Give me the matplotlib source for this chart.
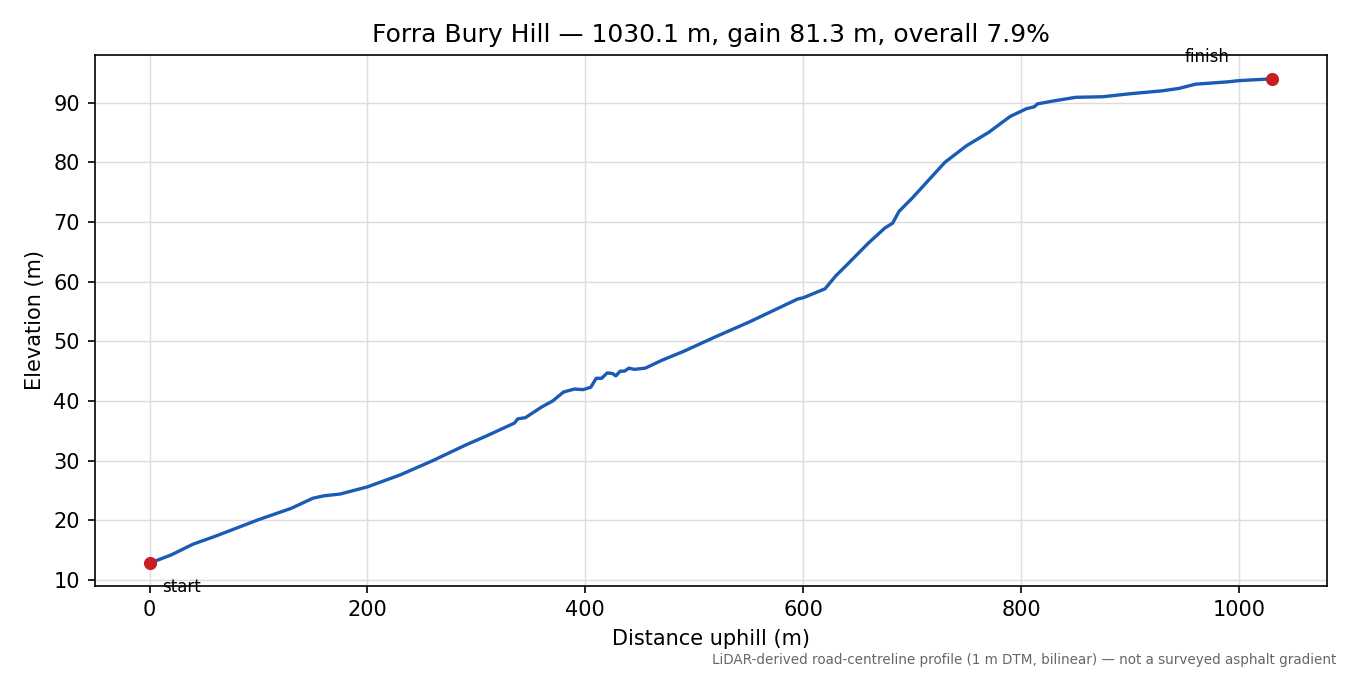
import matplotlib
matplotlib.use("Agg")
import matplotlib.pyplot as plt

dist = [0, 20, 40, 60, 80, 100, 130, 150, 160, 175, 200, 230, 260, 290, 310, 335, 338, 345, 350, 360,
        370, 380, 390, 398, 405, 410, 415, 420, 425, 428, 432, 436, 440, 445, 455, 470, 490, 520, 550,
        580, 595, 600, 620, 630, 640, 660, 675, 682, 688, 700, 715, 730, 750, 770, 790, 805, 812, 815,
        830, 850, 875, 900, 930, 945, 960, 990, 1000, 1030.1]
elev = [12.8, 14.2, 16.0, 17.3, 18.7, 20.1, 22.0, 23.7, 24.1, 24.4, 25.6, 27.6, 30.0, 32.6, 34.2, 36.3,
        37.0, 37.2, 37.8, 39.0, 40.0, 41.5, 42.0, 41.9, 42.3, 43.8, 43.8, 44.7, 44.6, 44.2, 45.0, 45.0,
        45.5, 45.3, 45.5, 46.8, 48.3, 50.8, 53.2, 55.8, 57.1, 57.3, 58.8, 61.0, 62.8, 66.5, 69.0, 69.8,
        71.8, 74.0, 77.0, 80.0, 82.8, 85.0, 87.7, 89.0, 89.3, 89.8, 90.3, 90.9, 91.0, 91.5, 92.0, 92.4,
        93.1, 93.5, 93.7, 94.0]

fig = plt.figure(figsize=(9, 4.5), dpi=150)
ax = fig.add_axes([0.070, 0.132, 0.913, 0.787])
ax.plot(dist, elev, color="#1a5bb5", lw=1.6, zorder=2)
ax.scatter([dist[0], dist[-1]], [elev[0], elev[-1]], color="#c81e24", s=28, zorder=3)
ax.annotate("start", (dist[0], elev[0]), xytext=(6, -14), textcoords="offset points", fontsize=8)
ax.annotate("finish", (dist[-1], elev[-1]), xytext=(-42, 8), textcoords="offset points", fontsize=8)
ax.set_xlim(-50.5, 1080.8)
ax.set_ylim(9.0, 98.05)
ax.set_xticks([0, 200, 400, 600, 800, 1000])
ax.set_yticks(range(10, 100, 10))
ax.grid(True, color="#dddddd", lw=0.7, zorder=0)
ax.set_xlabel("Distance uphill (m)")
ax.set_ylabel("Elevation (m)")
ax.set_title("Forra Bury Hill \u2014 1030.1 m, gain 81.3 m, overall 7.9%")
fig.text(0.99, 0.012, "LiDAR-derived road-centreline profile (1 m DTM, bilinear) \u2014 not a surveyed asphalt gradient",
         ha="right", va="bottom", fontsize=6.5, color="#666666")
fig.savefig("out.png", dpi=150)
